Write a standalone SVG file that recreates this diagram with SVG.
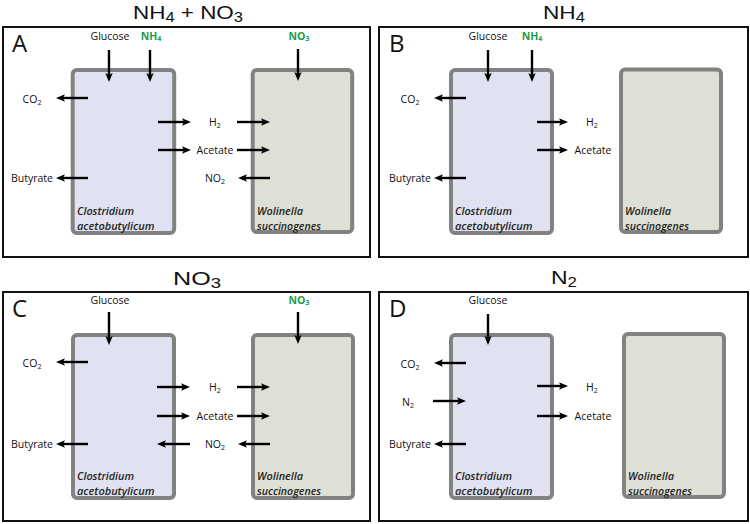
<svg xmlns="http://www.w3.org/2000/svg" width="750" height="524" viewBox="0 0 750 524">
<style>
text{font-family:"Open Sans","Liberation Sans",sans-serif;fill:#111}
.frame{fill:#fff;stroke:#111;stroke-width:2}
.clo{fill:#e0e2f1;stroke:#828282;stroke-width:4}
.wol{fill:#dfe0d5;stroke:#828282;stroke-width:4}
.title{font-family:"Liberation Sans",Arial,sans-serif;font-size:19px;text-anchor:middle}
.letter{font-size:24px}
.lbl{font-size:10.5px;text-anchor:middle}
.end{text-anchor:end}
.grn{fill:#1f9a4b;font-weight:700}
.sp{font-size:11px;font-style:italic;font-weight:600;fill:#222}
.sub{font-size:7px}
.tsub{font-size:14px}
.arr{stroke:#000;stroke-width:2.4;fill:none;marker-end:url(#ah)}
</style>
<defs>
<marker id="ah" markerUnits="userSpaceOnUse" markerWidth="10" markerHeight="8" viewBox="0 0 10 8" refX="2" refY="4" orient="auto">
<path d="M0,0.3 L9,4 L0,7.7 L2,4 Z" fill="#000"/>
</marker>
</defs>
<rect width="750" height="524" fill="#fff"/>

<g id="panelA">
<rect class="frame" x="3" y="27" width="367" height="230"/>
<text class="title" x="188" y="18.5" textLength="110" lengthAdjust="spacingAndGlyphs">NH<tspan class="tsub" dy="3">4</tspan><tspan dy="-3"> + NO</tspan><tspan class="tsub" dy="3">3</tspan></text>
<text class="letter" x="12" y="52">A</text>
</g>
<g id="panelB">
<rect class="frame" x="379" y="27" width="369" height="230"/>
<text class="title" x="564" y="18.5" textLength="42" lengthAdjust="spacingAndGlyphs">NH<tspan class="tsub" dy="3">4</tspan></text>
<text class="letter" x="389" y="52">B</text>
</g>
<g id="panelC">
<rect class="frame" x="3" y="292" width="367" height="229"/>
<text class="title" x="197" y="285" textLength="48" lengthAdjust="spacingAndGlyphs">NO<tspan class="tsub" dy="3">3</tspan></text>
<text class="letter" x="12" y="317">C</text>
</g>
<g id="panelD">
<rect class="frame" x="379" y="292" width="369" height="229"/>
<text class="title" x="564" y="284" textLength="26" lengthAdjust="spacingAndGlyphs">N<tspan class="tsub" dy="3">2</tspan></text>
<text class="letter" x="389" y="317">D</text>
</g>

<g id="clostridiumA"><rect class="clo" x="72.7" y="70" width="101.5" height="163" rx="4"/><text class="sp" x="77" y="215" textLength="57" lengthAdjust="spacingAndGlyphs">Clostridium</text><text class="sp" x="77" y="230" textLength="77.5" lengthAdjust="spacingAndGlyphs">acetobutylicum</text></g>
<g id="wolinellaA"><rect class="wol" x="252.7" y="70" width="99.5" height="162" rx="4"/><text class="sp" x="257" y="215" textLength="46" lengthAdjust="spacingAndGlyphs">Wolinella</text><text class="sp" x="257" y="230" textLength="64" lengthAdjust="spacingAndGlyphs">succinogenes</text></g>
<g id="clostridiumB"><rect class="clo" x="451" y="70" width="101" height="163" rx="4"/><text class="sp" x="455" y="215" textLength="57" lengthAdjust="spacingAndGlyphs">Clostridium</text><text class="sp" x="455" y="230" textLength="77.5" lengthAdjust="spacingAndGlyphs">acetobutylicum</text></g>
<g id="wolinellaB"><rect class="wol" x="621" y="69.5" width="100" height="162.5" rx="4"/><text class="sp" x="625" y="215" textLength="46" lengthAdjust="spacingAndGlyphs">Wolinella</text><text class="sp" x="625" y="230" textLength="64" lengthAdjust="spacingAndGlyphs">succinogenes</text></g>
<g id="clostridiumC"><rect class="clo" x="73" y="335" width="101" height="163" rx="4"/><text class="sp" x="77" y="480" textLength="57" lengthAdjust="spacingAndGlyphs">Clostridium</text><text class="sp" x="77" y="495" textLength="77.5" lengthAdjust="spacingAndGlyphs">acetobutylicum</text></g>
<g id="wolinellaC"><rect class="wol" x="253" y="335" width="100" height="163" rx="4"/><text class="sp" x="257" y="480" textLength="46" lengthAdjust="spacingAndGlyphs">Wolinella</text><text class="sp" x="257" y="495" textLength="64" lengthAdjust="spacingAndGlyphs">succinogenes</text></g>
<g id="clostridiumD"><rect class="clo" x="451" y="335" width="101" height="163" rx="4"/><text class="sp" x="455" y="480" textLength="57" lengthAdjust="spacingAndGlyphs">Clostridium</text><text class="sp" x="455" y="495" textLength="77.5" lengthAdjust="spacingAndGlyphs">acetobutylicum</text></g>
<g id="wolinellaD"><rect class="wol" x="624" y="334" width="100" height="163" rx="4"/><text class="sp" x="628" y="480" textLength="46" lengthAdjust="spacingAndGlyphs">Wolinella</text><text class="sp" x="628" y="495" textLength="64" lengthAdjust="spacingAndGlyphs">succinogenes</text></g>

<g id="labelsA">
<text class="lbl" x="110" y="40">Glucose</text>
<text class="lbl grn" x="151" y="40">NH<tspan class="sub" dy="1">4</tspan></text>
<text class="lbl grn" x="299" y="40">NO<tspan class="sub" dy="1">3</tspan></text>
<text class="lbl" x="32" y="103">CO<tspan class="sub" dy="2">2</tspan></text>
<text class="lbl end" x="53" y="182">Butyrate</text>
<text class="lbl" x="215" y="126">H<tspan class="sub" dy="2">2</tspan></text>
<text class="lbl" x="215" y="154">Acetate</text>
<text class="lbl" x="215" y="182">NO<tspan class="sub" dy="2">2</tspan></text>
</g>
<g id="labelsB">
<text class="lbl" x="488" y="40">Glucose</text>
<text class="lbl grn" x="532" y="40">NH<tspan class="sub" dy="1">4</tspan></text>
<text class="lbl" x="410" y="103">CO<tspan class="sub" dy="2">2</tspan></text>
<text class="lbl end" x="431" y="182">Butyrate</text>
<text class="lbl" x="592" y="126">H<tspan class="sub" dy="2">2</tspan></text>
<text class="lbl" x="593" y="154">Acetate</text>
</g>
<g id="labelsC">
<text class="lbl" x="110" y="304">Glucose</text>
<text class="lbl grn" x="299" y="304">NO<tspan class="sub" dy="1">3</tspan></text>
<text class="lbl" x="32" y="367">CO<tspan class="sub" dy="2">2</tspan></text>
<text class="lbl end" x="53" y="448">Butyrate</text>
<text class="lbl" x="215" y="391">H<tspan class="sub" dy="2">2</tspan></text>
<text class="lbl" x="215" y="420">Acetate</text>
<text class="lbl" x="215" y="448">NO<tspan class="sub" dy="2">2</tspan></text>
</g>
<g id="labelsD">
<text class="lbl" x="488" y="304">Glucose</text>
<text class="lbl" x="410" y="368">CO<tspan class="sub" dy="2">2</tspan></text>
<text class="lbl" x="408" y="406">N<tspan class="sub" dy="2">2</tspan></text>
<text class="lbl end" x="431" y="448">Butyrate</text>
<text class="lbl" x="592" y="391">H<tspan class="sub" dy="2">2</tspan></text>
<text class="lbl" x="593" y="420">Acetate</text>
</g>

<g id="connectors">
<line class="arr" x1="109" y1="50" x2="109" y2="75"/>
<line class="arr" x1="150" y1="50" x2="150" y2="75"/>
<line class="arr" x1="298" y1="49" x2="298" y2="74"/>
<line class="arr" x1="88" y1="98" x2="63" y2="98"/>
<line class="arr" x1="88" y1="178" x2="63" y2="178"/>
<line class="arr" x1="158" y1="122" x2="184" y2="122"/>
<line class="arr" x1="237" y1="122" x2="263" y2="122"/>
<line class="arr" x1="158" y1="150" x2="184" y2="150"/>
<line class="arr" x1="237" y1="150" x2="263" y2="150"/>
<line class="arr" x1="270" y1="178" x2="245" y2="178"/>

<line class="arr" x1="488" y1="50" x2="488" y2="75"/>
<line class="arr" x1="532" y1="50" x2="532" y2="75"/>
<line class="arr" x1="466" y1="98" x2="441" y2="98"/>
<line class="arr" x1="466" y1="178" x2="441" y2="178"/>
<line class="arr" x1="537" y1="122" x2="561" y2="122"/>
<line class="arr" x1="537" y1="150" x2="561" y2="150"/>

<line class="arr" x1="109" y1="312" x2="109" y2="338"/>
<line class="arr" x1="298" y1="312" x2="298" y2="337"/>
<line class="arr" x1="88" y1="362" x2="63" y2="362"/>
<line class="arr" x1="88" y1="444" x2="63" y2="444"/>
<line class="arr" x1="157" y1="387" x2="183" y2="387"/>
<line class="arr" x1="237" y1="387" x2="263" y2="387"/>
<line class="arr" x1="157" y1="416" x2="183" y2="416"/>
<line class="arr" x1="237" y1="416" x2="263" y2="416"/>
<line class="arr" x1="270" y1="444" x2="245" y2="444"/>
<line class="arr" x1="190" y1="444" x2="164" y2="444"/>

<line class="arr" x1="488" y1="314" x2="488" y2="338"/>
<line class="arr" x1="466" y1="363" x2="441" y2="363"/>
<line class="arr" x1="433" y1="401" x2="459" y2="401"/>
<line class="arr" x1="466" y1="444" x2="441" y2="444"/>
<line class="arr" x1="537" y1="386" x2="561" y2="386"/>
<line class="arr" x1="537" y1="416" x2="561" y2="416"/>
</g>
</svg>
